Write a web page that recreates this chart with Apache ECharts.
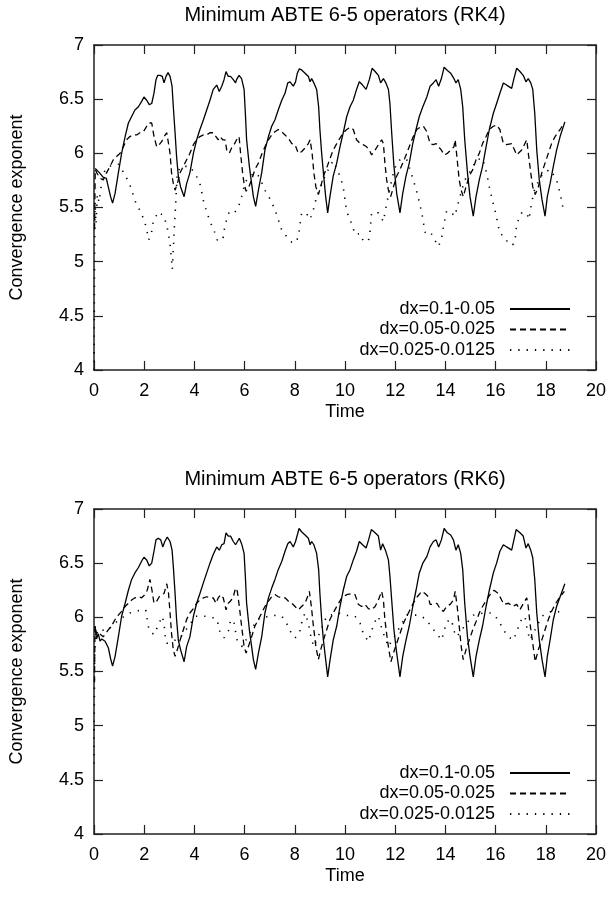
<!DOCTYPE html>
<html>
<head>
<meta charset="utf-8">
<script src="https://cdn.jsdelivr.net/npm/echarts@6/dist/echarts.min.js"></script>
<style>
html,body{margin:0;padding:0;background:#fff;}
#c{width:611px;height:897px;}
</style>
</head>
<body>
<div id="c"></div>
<script>
const titles = ['Minimum ABTE 6-5 operators (RK4)', 'Minimum ABTE 6-5 operators (RK6)'];
const seriesNames = ['dx=0.1-0.05', 'dx=0.05-0.025', 'dx=0.025-0.0125'];
const xAxisName = 'Time';
const yAxisName = 'Convergence exponent';

const rk4Solid = [[0.05,5.86],[0.11,5.86],[0.22,5.82],[0.36,5.78],[0.49,5.77],[0.57,5.69],[0.66,5.60],[0.74,5.54],[0.84,5.63],[0.97,5.82],[1.10,6.00],[1.24,6.155],[1.37,6.28],[1.50,6.34],[1.63,6.40],[1.77,6.43],[1.90,6.48],[1.99,6.52],[2.10,6.49],[2.20,6.45],[2.30,6.46],[2.39,6.555],[2.47,6.68],[2.54,6.72],[2.63,6.72],[2.72,6.71],[2.79,6.65],[2.87,6.71],[2.95,6.745],[3.03,6.71],[3.11,6.62],[3.16,6.43],[3.23,6.19],[3.29,5.97],[3.36,5.79],[3.45,5.69],[3.59,5.60],[3.69,5.72],[3.82,5.82],[3.96,6.00],[4.09,6.125],[4.22,6.22],[4.36,6.31],[4.49,6.40],[4.62,6.49],[4.75,6.59],[4.89,6.63],[4.99,6.57],[5.09,6.62],[5.18,6.68],[5.26,6.755],[5.35,6.71],[5.44,6.71],[5.55,6.68],[5.64,6.65],[5.68,6.68],[5.78,6.72],[5.88,6.69],[5.98,6.59],[6.03,6.37],[6.08,6.125],[6.19,5.88],[6.28,5.72],[6.35,5.60],[6.44,5.51],[6.55,5.66],[6.68,5.82],[6.81,6.03],[6.95,6.155],[7.08,6.25],[7.21,6.31],[7.34,6.40],[7.48,6.49],[7.61,6.555],[7.72,6.65],[7.81,6.66],[7.94,6.62],[8.03,6.66],[8.10,6.74],[8.18,6.78],[8.27,6.77],[8.41,6.74],[8.54,6.71],[8.61,6.66],[8.67,6.69],[8.76,6.65],[8.87,6.59],[8.95,6.43],[9.00,6.22],[9.07,6.00],[9.14,5.82],[9.23,5.60],[9.31,5.45],[9.40,5.60],[9.53,5.79],[9.67,5.91],[9.80,6.06],[9.93,6.19],[10.07,6.34],[10.20,6.43],[10.33,6.49],[10.46,6.59],[10.57,6.66],[10.70,6.63],[10.84,6.59],[10.97,6.68],[11.08,6.785],[11.20,6.755],[11.33,6.72],[11.42,6.65],[11.53,6.69],[11.63,6.65],[11.73,6.59],[11.79,6.46],[11.86,6.19],[11.95,5.88],[12.06,5.63],[12.19,5.45],[12.30,5.63],[12.43,5.79],[12.56,5.91],[12.70,6.09],[12.83,6.22],[12.96,6.34],[13.10,6.43],[13.26,6.52],[13.39,6.62],[13.52,6.65],[13.63,6.68],[13.73,6.62],[13.84,6.69],[13.95,6.795],[14.08,6.765],[14.21,6.74],[14.34,6.69],[14.42,6.65],[14.51,6.68],[14.61,6.59],[14.69,6.43],[14.77,6.125],[14.88,5.82],[14.98,5.60],[15.11,5.42],[15.22,5.60],[15.35,5.755],[15.48,5.88],[15.62,6.06],[15.75,6.22],[15.91,6.37],[16.04,6.46],[16.17,6.555],[16.31,6.65],[16.44,6.63],[16.64,6.60],[16.73,6.69],[16.84,6.785],[16.97,6.755],[17.10,6.72],[17.21,6.66],[17.30,6.69],[17.40,6.65],[17.48,6.59],[17.56,6.37],[17.64,6.03],[17.74,5.755],[17.85,5.57],[17.97,5.42],[18.06,5.60],[18.17,5.72],[18.30,5.88],[18.43,6.03],[18.57,6.155],[18.76,6.29]];

const rk4Dashed = [[0.02,5.30],[0.05,5.85],[0.11,5.82],[0.24,5.77],[0.37,5.755],[0.50,5.82],[0.64,5.88],[0.77,5.94],[0.90,5.97],[1.04,6.00],[1.17,6.06],[1.30,6.125],[1.43,6.155],[1.57,6.17],[1.70,6.17],[1.83,6.19],[1.97,6.20],[2.10,6.25],[2.20,6.28],[2.30,6.28],[2.39,6.155],[2.50,6.06],[2.60,6.08],[2.70,6.11],[2.79,6.155],[2.90,6.19],[2.97,6.19],[3.03,6.00],[3.09,5.82],[3.16,5.72],[3.23,5.66],[3.32,5.72],[3.43,5.82],[3.56,5.88],[3.69,5.94],[3.82,6.00],[3.96,6.08],[4.09,6.125],[4.22,6.155],[4.36,6.17],[4.49,6.17],[4.62,6.19],[4.75,6.19],[4.86,6.155],[4.95,6.125],[5.02,6.155],[5.13,6.125],[5.22,6.125],[5.29,6.03],[5.39,6.00],[5.48,6.05],[5.58,6.08],[5.68,6.125],[5.78,6.155],[5.84,6.00],[5.92,5.82],[5.98,5.72],[6.06,5.65],[6.15,5.68],[6.28,5.755],[6.41,5.85],[6.55,5.91],[6.68,5.99],[6.81,6.06],[6.95,6.125],[7.08,6.17],[7.21,6.20],[7.34,6.22],[7.48,6.20],[7.61,6.17],[7.74,6.14],[7.88,6.09],[8.01,6.08],[8.14,6.00],[8.27,6.015],[8.41,6.05],[8.54,6.09],[8.61,6.125],[8.69,6.00],[8.76,5.82],[8.84,5.69],[8.94,5.62],[9.03,5.69],[9.14,5.79],[9.27,5.865],[9.40,5.95],[9.53,6.03],[9.67,6.09],[9.80,6.14],[9.93,6.19],[10.07,6.22],[10.20,6.24],[10.33,6.22],[10.46,6.125],[10.60,6.09],[10.73,6.08],[10.86,6.06],[10.97,6.03],[11.06,5.985],[11.20,6.03],[11.33,6.08],[11.46,6.125],[11.53,6.09],[11.59,5.91],[11.66,5.755],[11.73,5.66],[11.82,5.60],[11.93,5.69],[12.06,5.79],[12.19,5.85],[12.33,5.925],[12.46,6.00],[12.59,6.08],[12.72,6.155],[12.86,6.22],[12.99,6.24],[13.12,6.25],[13.26,6.20],[13.39,6.09],[13.52,6.08],[13.63,6.09],[13.73,6.06],[13.84,6.03],[13.95,5.985],[14.08,6.00],[14.21,6.03],[14.34,6.06],[14.39,6.125],[14.47,5.94],[14.55,5.755],[14.63,5.66],[14.71,5.60],[14.82,5.69],[14.95,5.79],[15.09,5.85],[15.22,5.94],[15.35,6.00],[15.48,6.09],[15.62,6.155],[15.75,6.22],[15.91,6.25],[16.04,6.26],[16.17,6.22],[16.31,6.09],[16.44,6.08],[16.64,6.09],[16.84,5.985],[17.04,6.03],[17.24,6.125],[17.32,5.97],[17.40,5.82],[17.48,5.69],[17.58,5.62],[17.70,5.69],[17.84,5.82],[17.97,5.91],[18.10,6.00],[18.23,6.09],[18.37,6.155],[18.57,6.22],[18.74,6.28]];

const rk4Dotted = [[0.00,4.00],[0.02,4.90],[0.04,5.55],[0.08,5.35],[0.13,5.62],[0.20,5.55],[0.30,5.72],[0.44,5.85],[0.70,5.89],[0.97,5.90],[1.24,5.80],[1.43,5.71],[1.67,5.54],[1.86,5.46],[2.03,5.36],[2.12,5.27],[2.18,5.20],[2.30,5.28],[2.36,5.37],[2.56,5.46],[2.79,5.42],[2.92,5.31],[3.03,5.17],[3.12,4.93],[3.19,5.26],[3.32,5.83],[3.49,5.88],[3.82,5.88],[4.06,5.80],[4.22,5.72],[4.38,5.54],[4.62,5.37],[4.78,5.29],[4.91,5.20],[5.13,5.20],[5.22,5.34],[5.39,5.46],[5.59,5.45],[5.75,5.50],[5.88,5.60],[5.98,5.69],[6.08,5.755],[6.28,5.80],[6.48,5.82],[6.64,5.755],[6.81,5.66],[7.01,5.58],[7.21,5.48],[7.48,5.29],[7.68,5.23],[7.88,5.18],[8.07,5.18],[8.18,5.29],[8.27,5.45],[8.45,5.45],[8.61,5.39],[8.74,5.48],[8.87,5.60],[9.03,5.69],[9.20,5.79],[9.40,5.88],[9.53,5.93],[9.80,5.79],[9.93,5.69],[10.04,5.51],[10.13,5.42],[10.27,5.35],[10.40,5.25],[10.60,5.26],[10.73,5.19],[10.93,5.19],[10.99,5.26],[11.06,5.45],[11.33,5.45],[11.53,5.37],[11.59,5.45],[11.69,5.57],[11.79,5.68],[11.93,5.82],[12.06,5.91],[12.26,5.955],[12.46,5.94],[12.59,5.85],[12.72,5.755],[12.88,5.63],[13.06,5.45],[13.19,5.27],[13.39,5.28],[13.55,5.21],[13.73,5.14],[13.85,5.22],[13.92,5.32],[14.05,5.47],[14.25,5.45],[14.38,5.42],[14.51,5.54],[14.65,5.66],[14.78,5.755],[14.98,5.83],[15.25,5.94],[15.48,5.955],[15.64,5.82],[15.75,5.69],[15.87,5.57],[16.00,5.45],[16.17,5.26],[16.37,5.23],[16.51,5.16],[16.71,5.16],[16.79,5.23],[16.84,5.35],[17.04,5.45],[17.24,5.45],[17.33,5.39],[17.41,5.51],[17.53,5.65],[17.66,5.72],[17.90,5.82],[18.17,5.85],[18.43,5.755],[18.57,5.63],[18.70,5.48]];

const rk6Solid = [[0.04,5.92],[0.10,5.80],[0.17,5.85],[0.24,5.78],[0.31,5.80],[0.44,5.78],[0.57,5.72],[0.66,5.62],[0.74,5.55],[0.84,5.64],[0.97,5.82],[1.10,6.01],[1.24,6.13],[1.37,6.25],[1.50,6.35],[1.63,6.41],[1.77,6.46],[1.90,6.52],[1.99,6.555],[2.10,6.53],[2.20,6.475],[2.30,6.50],[2.39,6.61],[2.47,6.715],[2.56,6.73],[2.66,6.715],[2.74,6.65],[2.82,6.70],[2.92,6.74],[3.03,6.70],[3.11,6.62],[3.16,6.47],[3.23,6.22],[3.29,5.98],[3.36,5.79],[3.45,5.70],[3.59,5.59],[3.69,5.73],[3.82,5.82],[3.96,6.01],[4.09,6.13],[4.22,6.22],[4.36,6.32],[4.49,6.41],[4.62,6.50],[4.75,6.58],[4.89,6.65],[4.99,6.62],[5.09,6.67],[5.18,6.68],[5.26,6.78],[5.35,6.75],[5.44,6.75],[5.55,6.70],[5.64,6.67],[5.71,6.68],[5.79,6.73],[5.88,6.68],[5.98,6.59],[6.03,6.38],[6.08,6.13],[6.19,5.885],[6.28,5.73],[6.35,5.61],[6.44,5.52],[6.55,5.67],[6.68,5.82],[6.81,6.04],[6.95,6.18],[7.08,6.27],[7.21,6.35],[7.34,6.44],[7.48,6.515],[7.61,6.61],[7.72,6.68],[7.81,6.70],[7.94,6.65],[8.03,6.70],[8.10,6.76],[8.17,6.82],[8.27,6.79],[8.41,6.76],[8.54,6.73],[8.61,6.67],[8.67,6.70],[8.76,6.67],[8.87,6.59],[8.95,6.44],[9.00,6.22],[9.07,5.98],[9.14,5.79],[9.23,5.61],[9.31,5.45],[9.40,5.60],[9.53,5.79],[9.67,5.92],[9.80,6.10],[9.93,6.25],[10.07,6.38],[10.20,6.44],[10.33,6.53],[10.46,6.61],[10.57,6.70],[10.70,6.67],[10.84,6.64],[10.94,6.715],[11.05,6.81],[11.20,6.78],[11.33,6.75],[11.42,6.62],[11.50,6.68],[11.61,6.62],[11.73,6.53],[11.79,6.38],[11.86,6.16],[11.95,5.885],[12.06,5.67],[12.19,5.45],[12.30,5.64],[12.43,5.79],[12.56,5.92],[12.70,6.10],[12.83,6.25],[12.96,6.41],[13.10,6.50],[13.26,6.56],[13.39,6.65],[13.52,6.70],[13.63,6.715],[13.73,6.65],[13.84,6.715],[13.95,6.82],[14.08,6.78],[14.21,6.76],[14.32,6.715],[14.42,6.62],[14.51,6.67],[14.61,6.59],[14.69,6.44],[14.77,6.13],[14.88,5.82],[14.98,5.64],[15.11,5.45],[15.22,5.64],[15.35,5.79],[15.48,5.92],[15.62,6.10],[15.75,6.25],[15.91,6.41],[16.04,6.50],[16.17,6.61],[16.31,6.67],[16.44,6.65],[16.64,6.62],[16.73,6.715],[16.82,6.81],[16.97,6.78],[17.10,6.75],[17.21,6.64],[17.30,6.68],[17.40,6.62],[17.48,6.55],[17.56,6.35],[17.64,6.04],[17.74,5.79],[17.85,5.61],[17.97,5.45],[18.06,5.64],[18.17,5.79],[18.30,5.98],[18.43,6.10],[18.57,6.19],[18.76,6.31]];

const rk6Dashed = [[0.02,5.40],[0.04,5.92],[0.10,5.85],[0.17,5.87],[0.27,5.84],[0.37,5.82],[0.57,5.885],[0.70,5.92],[0.84,5.98],[0.97,6.02],[1.10,6.055],[1.24,6.10],[1.37,6.13],[1.50,6.16],[1.63,6.18],[1.77,6.19],[1.90,6.18],[2.03,6.21],[2.12,6.25],[2.23,6.35],[2.31,6.25],[2.39,6.13],[2.50,6.15],[2.60,6.19],[2.70,6.21],[2.79,6.22],[2.90,6.31],[2.97,6.22],[3.03,6.04],[3.09,5.85],[3.16,5.70],[3.23,5.64],[3.32,5.70],[3.43,5.79],[3.56,5.885],[3.69,5.98],[3.82,6.04],[3.96,6.08],[4.09,6.13],[4.22,6.16],[4.36,6.18],[4.49,6.19],[4.62,6.18],[4.75,6.18],[4.86,6.13],[4.95,6.18],[5.05,6.21],[5.15,6.18],[5.26,6.07],[5.35,6.13],[5.44,6.15],[5.55,6.19],[5.64,6.27],[5.71,6.24],[5.79,6.10],[5.88,5.92],[5.98,5.73],[6.06,5.67],[6.15,5.73],[6.28,5.82],[6.41,5.92],[6.55,5.98],[6.68,6.04],[6.81,6.10],[6.95,6.15],[7.08,6.19],[7.21,6.21],[7.34,6.19],[7.48,6.18],[7.61,6.18],[7.74,6.15],[7.88,6.13],[8.01,6.10],[8.14,6.07],[8.27,6.10],[8.41,6.13],[8.54,6.21],[8.58,6.24],[8.66,6.10],[8.74,5.92],[8.84,5.73],[8.94,5.61],[9.03,5.70],[9.14,5.79],[9.27,5.885],[9.40,5.98],[9.53,6.04],[9.67,6.10],[9.87,6.18],[10.07,6.21],[10.27,6.22],[10.40,6.21],[10.53,6.12],[10.66,6.10],[10.80,6.12],[10.93,6.08],[11.06,6.07],[11.20,6.10],[11.33,6.16],[11.46,6.24],[11.53,6.16],[11.59,5.98],[11.69,5.79],[11.77,5.67],[11.83,5.59],[11.93,5.67],[12.06,5.76],[12.19,5.85],[12.33,5.945],[12.46,6.01],[12.59,6.07],[12.72,6.13],[12.88,6.19],[13.06,6.24],[13.19,6.22],[13.32,6.19],[13.39,6.12],[13.52,6.12],[13.66,6.13],[13.79,6.08],[13.92,6.055],[14.05,6.10],[14.19,6.12],[14.32,6.16],[14.39,6.24],[14.47,6.10],[14.55,5.92],[14.63,5.73],[14.71,5.61],[14.82,5.70],[14.95,5.79],[15.09,5.885],[15.22,5.96],[15.35,6.04],[15.48,6.10],[15.64,6.16],[15.78,6.21],[15.94,6.25],[16.11,6.22],[16.24,6.16],[16.33,6.12],[16.51,6.13],[16.68,6.10],[16.84,6.12],[16.97,6.07],[17.11,6.13],[17.24,6.18],[17.30,6.10],[17.37,5.945],[17.48,5.76],[17.58,5.59],[17.70,5.70],[17.84,5.79],[17.97,5.885],[18.10,5.98],[18.23,6.055],[18.37,6.12],[18.57,6.19],[18.74,6.24]];

const rk6Dotted = [[0.00,4.65],[0.02,5.50],[0.05,5.90],[0.10,5.80],[0.18,5.86],[0.30,5.88],[0.56,5.885],[1.00,5.98],[1.43,6.04],[1.73,6.06],[2.06,6.07],[2.12,5.98],[2.19,5.885],[2.39,5.84],[2.72,6.01],[2.79,5.94],[2.86,5.78],[2.90,5.76],[3.05,5.77],[3.43,5.81],[4.05,6.01],[4.45,6.01],[4.71,6.00],[4.91,5.98],[4.98,5.885],[5.18,5.81],[5.38,5.885],[5.44,5.98],[5.58,5.946],[5.71,5.78],[5.91,5.73],[6.50,5.98],[7.12,6.02],[7.48,6.01],[7.65,5.96],[7.78,5.885],[8.01,5.81],[8.18,5.85],[8.27,5.946],[8.40,6.04],[8.53,5.96],[8.60,5.87],[8.67,5.79],[8.76,5.73],[9.27,6.01],[9.73,6.04],[10.00,6.02],[10.40,6.01],[10.60,5.946],[10.73,5.85],[10.93,5.777],[11.06,5.87],[11.15,5.946],[11.33,6.01],[11.39,5.96],[11.50,5.87],[11.63,5.79],[11.73,5.73],[12.46,6.02],[12.92,6.02],[13.19,5.99],[13.65,5.85],[13.85,5.79],[14.05,5.96],[14.25,5.98],[14.32,5.885],[14.45,5.82],[14.85,5.946],[15.11,6.02],[15.51,6.04],[15.84,6.04],[16.11,5.977],[16.31,5.885],[16.51,5.82],[16.71,5.79],[16.87,5.885],[16.97,5.96],[17.17,6.01],[17.26,5.885],[17.37,5.79],[17.84,6.01],[18.17,6.05],[18.50,6.05],[18.70,6.08]];

const FONT = '"Liberation Sans", Arial, Helvetica, sans-serif';
const FS = 18;
const TITLE_FS = 20;
const INK = '#000';
const FRAME = '#222';

const grids = [
  {left: 94, top: 45, width: 502, height: 325},
  {left: 94, top: 509, width: 502, height: 325}
];
const dashStyles = ['solid', [6, 4], [1.3, 7]];
const panelData = [[rk4Solid, rk4Dashed, rk4Dotted], [rk6Solid, rk6Dashed, rk6Dotted]];

const xAxes = [], yAxes = [], series = [], legends = [], titleList = [];
function ticks() { return {show: true, inside: true, length: 9, lineStyle: {color: FRAME, width: 1.2}}; }
function axLine() { return {show: true, onZero: false, lineStyle: {color: FRAME, width: 1.5}}; }

grids.forEach((g, gi) => {
  titleList.push({
    text: titles[gi], left: g.left + g.width / 2, textAlign: 'center',
    top: g.top - 40, padding: 0,
    textStyle: {fontFamily: FONT, fontSize: TITLE_FS, fontWeight: 'normal', color: INK}
  });
  xAxes.push({
    gridIndex: gi, type: 'value', min: 0, max: 20, interval: 2, position: 'bottom',
    axisLine: axLine(), axisTick: ticks(), splitLine: {show: false},
    axisLabel: {margin: 12, fontFamily: FONT, fontSize: FS, color: INK},
    name: xAxisName, nameLocation: 'middle', nameGap: 33,
    nameTextStyle: {fontFamily: FONT, fontSize: FS, color: INK}
  });
  xAxes.push({
    gridIndex: gi, type: 'value', min: 0, max: 20, interval: 2, position: 'top',
    axisLine: axLine(), axisTick: ticks(), splitLine: {show: false},
    axisLabel: {show: false}
  });
  yAxes.push({
    gridIndex: gi, type: 'value', min: 4, max: 7, interval: 0.5, position: 'left',
    axisLine: axLine(), axisTick: ticks(), splitLine: {show: false},
    axisLabel: {margin: 10, fontFamily: FONT, fontSize: FS, color: INK},
    name: yAxisName, nameLocation: 'middle', nameGap: 68, nameRotate: 90,
    nameTextStyle: {fontFamily: FONT, fontSize: FS, color: INK}
  });
  yAxes.push({
    gridIndex: gi, type: 'value', min: 4, max: 7, interval: 0.5, position: 'right',
    axisLine: axLine(), axisTick: ticks(), splitLine: {show: false},
    axisLabel: {show: false}
  });
  seriesNames.forEach((nm, si) => {
    series.push({
      name: nm, type: 'line', xAxisIndex: gi * 2, yAxisIndex: gi * 2,
      data: panelData[gi][si], symbol: 'none', showSymbol: false,
      itemStyle: {color: INK},
      lineStyle: {color: INK, width: si === 2 ? 1.6 : 1.3, type: dashStyles[si], cap: 'butt'},
      animation: false, z: 3 - si
    });
    const rowCenter = g.top + 265 + si * 20.5;
    legends.push({
      data: [nm], right: 40, top: rowCenter - 10, padding: 0,
      align: 'right', itemWidth: 60, itemHeight: 14, selectedMode: false,
      itemStyle: {opacity: 0},
      textStyle: {fontFamily: FONT, fontSize: FS, color: INK, padding: [0, 10, 0, 0]}
    });
  });
});

const chart = echarts.init(document.getElementById('c'), null, {renderer: 'canvas', width: 611, height: 897});
chart.setOption({
  backgroundColor: '#fff',
  animation: false,
  title: titleList,
  grid: grids,
  xAxis: xAxes,
  yAxis: yAxes,
  legend: legends,
  series: series
});
</script>
</body>
</html>
